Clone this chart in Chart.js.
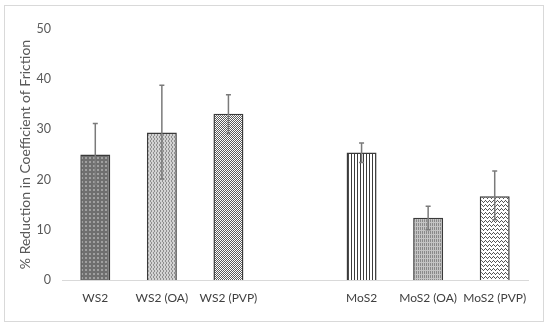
<!DOCTYPE html>
<html>
<head>
<meta charset="utf-8">
<script src="https://cdn.jsdelivr.net/npm/chart.js@4.4.0/dist/chart.umd.min.js"></script>
<style>
  html, body { margin: 0; padding: 0; background: #fff; }
  #wrap { position: relative; width: 550px; height: 329px; }
</style>
</head>
<body>
<div id="wrap"><canvas id="frictionChart"></canvas></div>
<script>
// data
var labels = ['WS2', 'WS2 (OA)', 'WS2 (PVP)', '', 'MoS2', 'MoS2 (OA)', 'MoS2 (PVP)'];
var reduction = [25.0, 29.4, 33.1, null, 25.4, 12.4, 16.7];
var errUp = [6.2, 9.4, 3.8, null, 1.9, 2.3, 5.0];
var errDown = [6.0, 9.3, 3.9, null, 2.0, 2.4, 4.7];
var yTicks = [0, 10, 20, 30, 40, 50];

function makePattern(w, h, bg, draw) {
  var c = document.createElement('canvas');
  c.width = w; c.height = h;
  var g = c.getContext('2d');
  g.fillStyle = bg;
  g.fillRect(0, 0, w, h);
  draw(g);
  return c.getContext('2d').createPattern(c, 'repeat');
}

// WS2: dark grey with light dots
var patDots = makePattern(4, 4, '#6f6f6f', function(g){
  g.fillStyle = '#a0a0a0';
  g.fillRect(1, 1, 2, 2);
});
// WS2 (OA): light grey, wavy vertical lines
var patWave = makePattern(3, 4, '#d2d2d2', function(g){
  g.fillStyle = '#8e8e8e';
  g.fillRect(0, 0, 1, 2);
  g.fillRect(1, 2, 1, 2);
});
// WS2 (PVP): fine diagonal hatch
var patDiag = makePattern(4, 4, '#ffffff', function(g){
  g.fillStyle = '#5a5a5a';
  for (var i = 0; i < 4; i++) {
    g.fillRect(i, (3 - i), 1, 1);
    g.fillRect(i, (3 - i + 2) % 4, 1, 1);
  }
});
// MoS2: vertical lines
var patVert = makePattern(3, 4, '#ffffff', function(g){
  g.fillStyle = '#3c3c3c';
  g.fillRect(0, 0, 1, 4);
});
// MoS2 (OA): dense grey vertical lines
var patVertDense = makePattern(2, 4, '#c4c4c4', function(g){
  g.fillStyle = '#8a8a8a';
  g.fillRect(0, 0, 1, 2);
  g.fillRect(0, 3, 1, 1);
});
// MoS2 (PVP): horizontal zigzags
var patZig = makePattern(4, 4, '#ffffff', function(g){
  g.fillStyle = '#555555';
  g.fillRect(0, 1, 1, 1);
  g.fillRect(1, 0, 1, 1);
  g.fillRect(2, 1, 1, 1);
  g.fillRect(3, 2, 1, 1);
});

var barFills = [patDots, patWave, patDiag, '#ffffff', patVert, patVertDense, patZig];

// error bars drawn with the scales
var errorBars = {
  id: 'errorBars',
  afterDatasetsDraw: function(chart) {
    var ctx = chart.ctx;
    var x = chart.scales.x, y = chart.scales.y;
    ctx.save();
    ctx.strokeStyle = '#7a7a7a';
    ctx.lineWidth = 1.5;
    for (var i = 0; i < reduction.length; i++) {
      if (reduction[i] === null) continue;
      var cx = x.getPixelForValue(i);
      var yTop = y.getPixelForValue(reduction[i] + errUp[i]);
      var yBot = y.getPixelForValue(reduction[i] - errDown[i]);
      ctx.beginPath();
      ctx.moveTo(cx, yTop); ctx.lineTo(cx, yBot);
      ctx.moveTo(cx - 2.5, yTop); ctx.lineTo(cx + 2.5, yTop);
      ctx.moveTo(cx - 2.5, yBot); ctx.lineTo(cx + 2.5, yBot);
      ctx.stroke();
    }
    ctx.restore();
  }
};

var frame = {
  id: 'frame',
  beforeDraw: function(chart) {
    var ctx = chart.ctx;
    ctx.save();
    ctx.fillStyle = '#ffffff';
    ctx.fillRect(0, 0, chart.width, chart.height);
    ctx.strokeStyle = '#d9d9d9';
    ctx.lineWidth = 1;
    ctx.strokeRect(4.5, 5.5, 539, 316);
    ctx.restore();
  }
};

var ctx = document.getElementById('frictionChart').getContext('2d');
new Chart(ctx, {
  type: 'bar',
  data: {
    labels: labels,
    datasets: [{
      data: reduction,
      backgroundColor: barFills,
      borderColor: '#3a3a3a',
      borderWidth: 1.5,
      categoryPercentage: 1,
      barPercentage: 0.45
    }]
  },
  options: {
    responsive: true,
    maintainAspectRatio: false,
    animation: false,
    layout: { padding: { top: 29, right: 22, bottom: 0, left: 0 } },
    plugins: {
      legend: { display: false },
      tooltip: { enabled: false }
    },
    scales: {
      x: {
        grid: { display: false },
        border: { display: true, color: '#d9d9d9', width: 1 },
        ticks: { color: '#404040', font: { family: 'Lato', size: 12 }, maxRotation: 0, autoSkip: false },
        afterFit: function(scale) { scale.height = 49; }
      },
      y: {
        min: 0,
        max: 50,
        afterBuildTicks: function(scale) {
          scale.ticks = yTicks.map(function(v){ return { value: v }; });
        },
        grid: { display: false },
        border: { display: false },
        ticks: { color: '#595959', font: { family: 'Lato', size: 12.5 } },
        title: {
          display: true,
          text: '% Reduction in Coefficient of Friction',
          color: '#595959',
          font: { family: 'Lato', size: 14 },
          padding: { top: 17, bottom: 4 }
        },
        afterFit: function(scale) { scale.width = 62; }
      }
    }
  },
  plugins: [frame, errorBars]
});
</script>
</body>
</html>
